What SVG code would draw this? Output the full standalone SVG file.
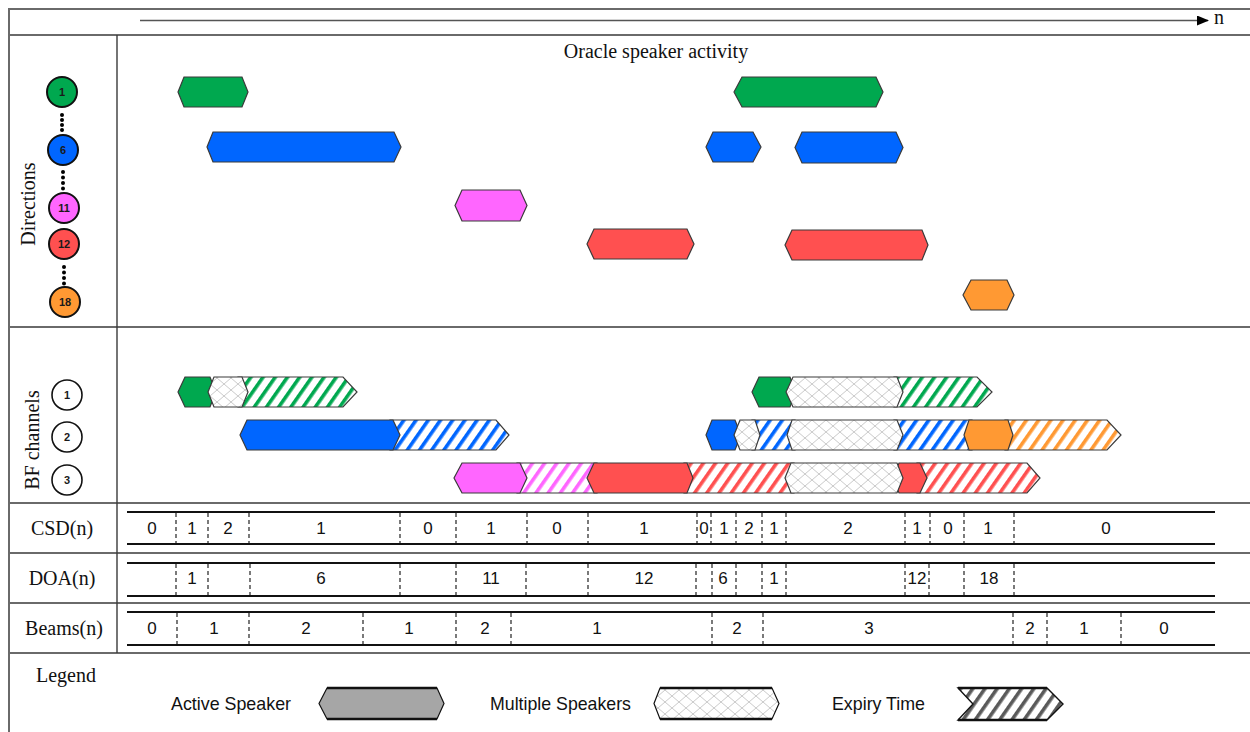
<svg xmlns="http://www.w3.org/2000/svg" width="1250" height="732" viewBox="0 0 1250 732">
<style>
.frame{stroke:#6a6a6a;stroke-width:2;fill:none}
.sep{stroke:#3a3a3a;stroke-width:1.4;fill:none}
.serif{font-family:"Liberation Serif","Times New Roman",serif;fill:#111}
.sans{font-family:"Liberation Sans",Arial,sans-serif;fill:#111}
.narrow{font-family:"Liberation Sans Narrow","Liberation Sans",Arial,sans-serif;fill:#111}
.bar{stroke:#3a3a3a;stroke-width:1.2}
.thick{stroke:#111;stroke-width:2.2}
.dash{stroke:#222;stroke-width:1.2;stroke-dasharray:4 3}
.dot{fill:#000}
.num{font-family:"Liberation Sans",Arial,sans-serif;font-size:17px;fill:#111;text-anchor:middle}
.cnum{font-family:"Liberation Sans",Arial,sans-serif;font-size:11px;font-weight:bold;fill:#1a1a1a;text-anchor:middle}
.circ{stroke:#111;stroke-width:2}
</style>
<defs>
<pattern id="stG" width="10" height="10" patternUnits="userSpaceOnUse" patternTransform="rotate(35)"><rect width="10" height="10" fill="#fff"/><rect width="3.6" height="10" fill="#00a84f"/></pattern>
<pattern id="stB" width="10" height="10" patternUnits="userSpaceOnUse" patternTransform="rotate(35)"><rect width="10" height="10" fill="#fff"/><rect width="3.6" height="10" fill="#0066ff"/></pattern>
<pattern id="stM" width="10" height="10" patternUnits="userSpaceOnUse" patternTransform="rotate(35)"><rect width="10" height="10" fill="#fff"/><rect width="3.6" height="10" fill="#ff66ff"/></pattern>
<pattern id="stR" width="10" height="10" patternUnits="userSpaceOnUse" patternTransform="rotate(35)"><rect width="10" height="10" fill="#fff"/><rect width="3.6" height="10" fill="#ff5050"/></pattern>
<pattern id="stO" width="10" height="10" patternUnits="userSpaceOnUse" patternTransform="rotate(35)"><rect width="10" height="10" fill="#fff"/><rect width="3.6" height="10" fill="#ff9933"/></pattern>
<pattern id="stK" width="10" height="10" patternUnits="userSpaceOnUse" patternTransform="rotate(35)"><rect width="10" height="10" fill="#fff"/><rect width="3.6" height="10" fill="#5a5a5a"/></pattern>
<pattern id="mx" width="14" height="12" patternUnits="userSpaceOnUse"><rect width="14" height="12" fill="#fff"/><path d="M0,0 L14,12 M14,0 L0,12" stroke="#bcbcbc" stroke-width="0.8"/></pattern>
<marker id="ah" markerWidth="12" markerHeight="10" refX="11" refY="5" orient="auto" markerUnits="userSpaceOnUse"><path d="M0,0 L12,5 L0,10 Z" fill="#000"/></marker>
</defs>

<rect x="0" y="0" width="1250" height="732" fill="#fff"/>

<!-- frame and table lines -->
<g id="table">
<path class="frame" d="M1252,9 H9 V740"/>
<path class="frame" d="M9,35 H1252 M9,327 H1252 M9,503 H1252 M9,553 H1252 M9,603 H1252 M9,653 H1252"/>
<path class="sep" d="M117,35 V653"/>
</g>

<!-- connectors: time axis -->
<g id="connectors">
<line x1="140" y1="20.5" x2="1208" y2="20.5" stroke="#555" stroke-width="1.5" marker-end="url(#ah)"/>
</g>
<text class="serif" x="1214" y="24" font-size="20">n</text>

<!-- Directions section -->
<text class="serif" x="656" y="58" font-size="20" text-anchor="middle">Oracle speaker activity</text>
<text class="serif" font-size="20" text-anchor="middle" transform="translate(35,204) rotate(-90)">Directions</text>

<g id="dir-circles">
<g id="dir1"><circle class="circ" cx="62" cy="92" r="15" fill="#00a84f"/><text class="cnum" x="62" y="96">1</text></g>
<g id="dir6"><circle class="circ" cx="63" cy="150" r="15" fill="#0066ff"/><text class="cnum" x="63" y="154">6</text></g>
<g id="dir11"><circle class="circ" cx="64" cy="208" r="15" fill="#ff66ff"/><text class="cnum" x="64" y="212">11</text></g>
<g id="dir12"><circle class="circ" cx="64" cy="244" r="15" fill="#ff5050"/><text class="cnum" x="64" y="248">12</text></g>
<g id="dir18"><circle class="circ" cx="65" cy="302" r="15" fill="#ff9933"/><text class="cnum" x="65" y="306">18</text></g>
<g id="dots">
<circle class="dot" cx="62" cy="115" r="2"/><circle class="dot" cx="62" cy="120" r="2"/><circle class="dot" cx="62" cy="125" r="2"/><circle class="dot" cx="62" cy="130" r="2"/>
<circle class="dot" cx="63" cy="172" r="2"/><circle class="dot" cx="63" cy="177.5" r="2"/><circle class="dot" cx="63" cy="183" r="2"/><circle class="dot" cx="63" cy="188.5" r="2"/>
<circle class="dot" cx="64" cy="267" r="2"/><circle class="dot" cx="64" cy="272.5" r="2"/><circle class="dot" cx="64" cy="278" r="2"/><circle class="dot" cx="64" cy="283.5" r="2"/>
</g>
</g>

<g id="oracle-bars">
<polygon id="o-g1" class="bar" fill="#00a84f" points="178,92 184,77 242,77 248,92 242,107 184,107"/>
<polygon id="o-g2" class="bar" fill="#00a84f" points="734,92 742,77 876,77 883,92 876,107 742,107"/>
<polygon id="o-b1" class="bar" fill="#0066ff" points="207,147 213,132 394,132 401,147 394,162 213,162"/>
<polygon id="o-b2" class="bar" fill="#0066ff" points="706,147 713,132 753,132 761,147 753,162 713,162"/>
<polygon id="o-b3" class="bar" fill="#0066ff" points="795,147.5 802,132 896,132 903,147.5 896,163 802,163"/>
<polygon id="o-m1" class="bar" fill="#ff66ff" points="455,205.5 462,190 520,190 527,205.5 520,221 462,221"/>
<polygon id="o-r1" class="bar" fill="#ff5050" points="587,244 594,229 687,229 694,244 687,259 594,259"/>
<polygon id="o-r2" class="bar" fill="#ff5050" points="785,245 792,230 922,230 928,245 922,260 792,260"/>
<polygon id="o-o1" class="bar" fill="#ff9933" points="963,295 971,280 1007,280 1014,295 1007,310 971,310"/>
</g>

<!-- BF channels section -->
<text class="serif" font-size="20" text-anchor="middle" transform="translate(39,440) rotate(-90)">BF channels</text>
<g id="bf-circles">
<g id="bf1"><circle cx="67" cy="395" r="15" fill="#fff" stroke="#111" stroke-width="1.6"/><text class="cnum" x="67" y="399">1</text></g>
<g id="bf2"><circle cx="67" cy="437" r="15" fill="#fff" stroke="#111" stroke-width="1.6"/><text class="cnum" x="67" y="441">2</text></g>
<g id="bf3"><circle cx="67" cy="480" r="15" fill="#fff" stroke="#111" stroke-width="1.6"/><text class="cnum" x="67" y="484">3</text></g>
</g>

<g id="bf-row1">
<polygon class="bar" fill="url(#stG)" points="238,377 343,377 357,392 343,407 238,407"/>
<polygon class="bar" fill="url(#stG)" points="894,377 977,377 992,392 977,407 894,407"/>
<polygon class="bar" fill="#00a84f" points="178,392 185,377 210,377 216,392 210,407 185,407"/>
<polygon class="bar" fill="#00a84f" points="752,392 759,377 790,377 796,392 790,407 759,407"/>
<polygon class="bar" fill="url(#mx)" points="208,392 214,377 242,377 248,392 242,407 214,407"/>
<polygon class="bar" fill="url(#mx)" points="786,392 793,377 897,377 903,392 897,407 793,407"/>
</g>

<g id="bf-row2">
<polygon class="bar" fill="url(#stB)" points="390,420 496,420 509,435 496,450 390,450"/>
<polygon class="bar" fill="url(#stB)" points="752,420 795,420 795,450 752,450"/>
<polygon class="bar" fill="url(#stB)" points="894,420 972,420 972,450 894,450"/>
<polygon class="bar" fill="url(#stO)" points="1005,420 1107,420 1121,435 1107,450 1005,450"/>
<polygon class="bar" fill="#0066ff" points="240,435 247,420 393,420 400,435 393,450 247,450"/>
<polygon class="bar" fill="#0066ff" points="706,435 712,420 735,420 741,435 735,450 712,450"/>
<polygon class="bar" fill="#ff9933" points="964,435 969,420 1008,420 1013,435 1008,450 969,450"/>
<polygon class="bar" fill="url(#mx)" points="734,435 740,420 755,420 760,435 755,450 740,450"/>
<polygon class="bar" fill="url(#mx)" points="787,435 792,420 897,420 903,435 897,450 792,450"/>
</g>

<g id="bf-row3">
<polygon class="bar" fill="url(#stM)" points="517,463 597,463 597,493 517,493"/>
<polygon class="bar" fill="url(#stR)" points="684,463 794,463 794,493 684,493"/>
<polygon class="bar" fill="url(#stR)" points="917,463 1027,463 1040,478 1027,493 917,493"/>
<polygon class="bar" fill="#ff66ff" points="454,478 462,463 520,463 527,478 520,493 462,493"/>
<polygon class="bar" fill="#ff5050" points="587,478 594,463 687,463 693,478 687,493 594,493"/>
<polygon class="bar" fill="#ff5050" points="893,478 899,463 920,463 927,478 920,493 899,493"/>
<polygon class="bar" fill="url(#mx)" points="785,478 791,463 897,463 903,478 897,493 791,493"/>
</g>

<!-- CSD row -->
<g id="csd">
<text class="serif" x="62" y="535" font-size="20" text-anchor="middle">CSD(n)</text>
<path class="thick" d="M127,512 H1215 M127,544 H1215"/>
<path class="dash" d="M176,513 V543 M208,513 V543 M249,513 V543 M400,513 V543 M456,513 V543 M527,513 V543 M588,513 V543 M697,513 V543 M711,513 V543 M736,513 V543 M762,513 V543 M786,513 V543 M905,513 V543 M930,513 V543 M964,513 V543 M1014,513 V543"/>
<text class="num" x="152" y="534">0</text>
<text class="num" x="192" y="534">1</text>
<text class="num" x="228" y="534">2</text>
<text class="num" x="321" y="534">1</text>
<text class="num" x="428" y="534">0</text>
<text class="num" x="491" y="534">1</text>
<text class="num" x="557" y="534">0</text>
<text class="num" x="644" y="534">1</text>
<text class="num" x="704" y="534">0</text>
<text class="num" x="724" y="534">1</text>
<text class="num" x="749" y="534">2</text>
<text class="num" x="774" y="534">1</text>
<text class="num" x="848" y="534">2</text>
<text class="num" x="917" y="534">1</text>
<text class="num" x="948" y="534">0</text>
<text class="num" x="988" y="534">1</text>
<text class="num" x="1106" y="534">0</text>
</g>

<!-- DOA row -->
<g id="doa">
<text class="serif" x="62" y="585" font-size="20" text-anchor="middle">DOA(n)</text>
<path class="thick" d="M127,563 H1215 M127,596 H1215"/>
<path class="dash" d="M176,564 V595 M208,564 V595 M250,564 V595 M400,564 V595 M456,564 V595 M526,564 V595 M588,564 V595 M696,564 V595 M712,564 V595 M736,564 V595 M762,564 V595 M786,564 V595 M905,564 V595 M929,564 V595 M964,564 V595 M1014,564 V595"/>
<text class="num" x="192" y="584">1</text>
<text class="num" x="321" y="584">6</text>
<text class="num" x="491" y="584">11</text>
<text class="num" x="644" y="584">12</text>
<text class="num" x="723" y="584">6</text>
<text class="num" x="774" y="584">1</text>
<text class="num" x="917" y="584">12</text>
<text class="num" x="989" y="584">18</text>
</g>

<!-- Beams row -->
<g id="beams">
<text class="serif" x="64" y="635" font-size="20" text-anchor="middle">Beams(n)</text>
<path class="thick" d="M127,612 H1215 M127,645 H1215"/>
<path class="dash" d="M177,613 V644 M249,613 V644 M363,613 V644 M456,613 V644 M511,613 V644 M712,613 V644 M763,613 V644 M1013,613 V644 M1047,613 V644 M1121,613 V644"/>
<text class="num" x="152" y="634">0</text>
<text class="num" x="214" y="634">1</text>
<text class="num" x="306" y="634">2</text>
<text class="num" x="409" y="634">1</text>
<text class="num" x="485" y="634">2</text>
<text class="num" x="597" y="634">1</text>
<text class="num" x="737" y="634">2</text>
<text class="num" x="869" y="634">3</text>
<text class="num" x="1030" y="634">2</text>
<text class="num" x="1084" y="634">1</text>
<text class="num" x="1164" y="634">0</text>
</g>

<!-- Legend -->
<g id="legend">
<text class="serif" x="36" y="682" font-size="20">Legend</text>
<g id="leg-active">
<text class="narrow" x="171" y="710" font-size="19" textLength="120" lengthAdjust="spacingAndGlyphs">Active Speaker</text>
<polygon points="319,703.5 327,688 437,688 444,703.5 437,719 327,719" fill="#a6a6a6" stroke="#111" stroke-width="1.2"/>
<path d="M327,688 H437 M327,719 H437" stroke="#111" stroke-width="2.4"/>
</g>
<g id="leg-multi">
<text class="narrow" x="490" y="710" font-size="19" textLength="141" lengthAdjust="spacingAndGlyphs">Multiple Speakers</text>
<polygon points="654,703.5 660,688 772,688 779,703.5 772,719 660,719" fill="url(#mx)" stroke="#111" stroke-width="1.2"/>
<path d="M660,688 H772 M660,719 H772" stroke="#111" stroke-width="2.4"/>
</g>
<g id="leg-expiry">
<text class="narrow" x="832" y="710" font-size="19" textLength="93" lengthAdjust="spacingAndGlyphs">Expiry Time</text>
<polygon points="958,688 1047,688 1063,704 1047,720 958,720 973,704" fill="url(#stK)" stroke="#111" stroke-width="1.4"/>
<path d="M958,688 H1047 M958,720 H1047" stroke="#111" stroke-width="2.4"/>
</g>
</g>
</svg>
